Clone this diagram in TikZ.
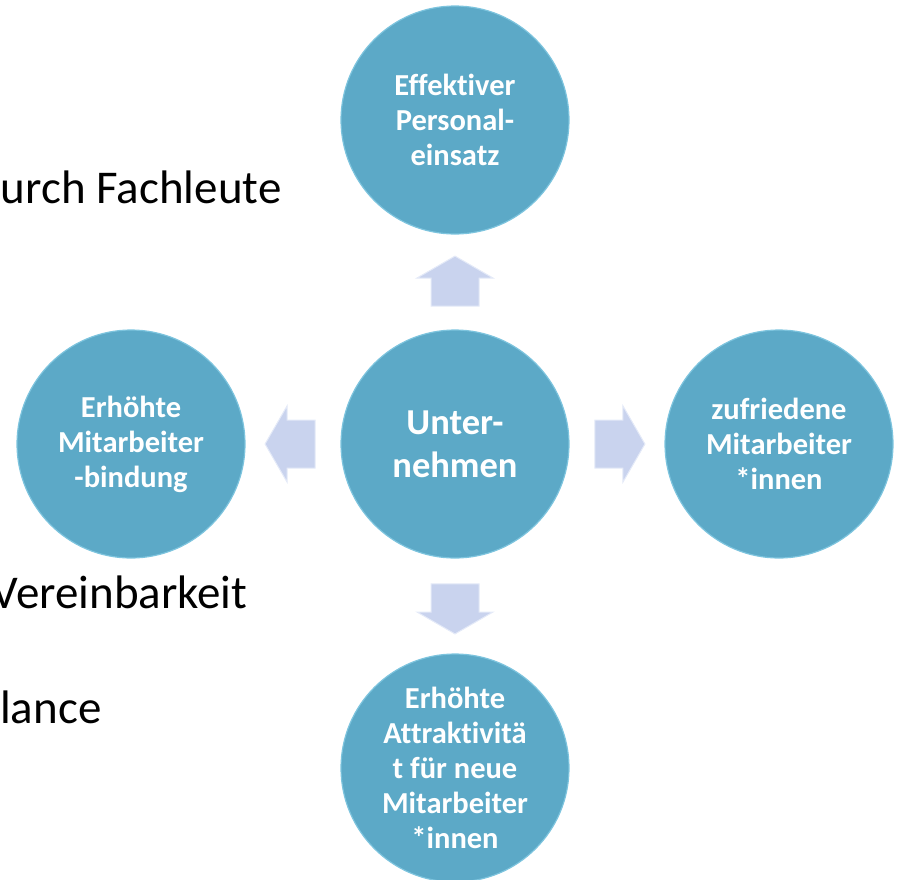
\documentclass[tikz,border=0pt]{standalone}
\usepackage{fontspec}
\setmainfont{Carlito}[Ligatures={NoCommon,NoRare,NoContextual}]
\usetikzlibrary{positioning, shapes}

\definecolor{kreisblau}{RGB}{92,169,199}
\definecolor{kreisrand}{RGB}{125,196,222}
\definecolor{pfeilblau}{RGB}{201,211,238}
\definecolor{pfeilrand}{RGB}{228,234,248}

\begin{document}
\begin{tikzpicture}[x=1pt, y=-1pt, node distance=324pt, on grid,
			blase/.style={circle, fill=kreisblau, draw=kreisrand, line width=1.2pt,
				minimum size=228pt, inner sep=0pt, align=center, text=white,
				font=\bfseries\fontsize{30.5}{35}\selectfont},
			pfeilform/.style={single arrow, fill=pfeilblau, draw=pfeilrand, line width=1pt,
				minimum height=50pt, single arrow head extend=14pt, single arrow tip angle=120,
				inner xsep=0pt, inner ysep=23.5pt, text height=0pt, text depth=0pt,
				node distance=158pt},
			hinten/.style={anchor=base east, font=\fontsize{47}{56}\selectfont} ]
			\useasboundingbox (0,0) rectangle (897,879);
			\clip (0,0) rectangle (897,879);
			
			%Text der Folie dahinter
			\node[hinten] (T1) at (285,203) {urch Fachleute};
			\node[hinten] (T2) at (251,608) {Vereinbarkeit};
			\node[hinten] (T3) at (105,723) {lance};
			
			%Kreise:
			\node[blase, font=\bfseries\fontsize{36.5}{43}\selectfont] (U) at (455,444) {Unter-\\nehmen};
			\node[blase]	(E)[above of=U]   {Effektiver\\Personal-\\einsatz};
			\node[blase]	(M)[left of=U]    {Erhöhte\\Mitarbeiter\\-bindung};
			\node[blase]	(Z)[right of=U]   {zufriedene\\Mitarbeiter\\*innen};
			\node[blase]	(A)[below of=U]   {Erhöhte\\Attraktivitä\\t für neue\\Mitarbeiter\\*innen};
			
			%Pfeile:
			\node[pfeilform, node distance=156pt, above of=U, rotate=90]   (pE) {};
			\node[pfeilform, left of=U, rotate=180]   (pM) {};
			\node[pfeilform, right of=U]              (pZ) {};
			\node[pfeilform, below of=U, rotate=-90]  (pA) {};
		\end{tikzpicture}
\end{document}
